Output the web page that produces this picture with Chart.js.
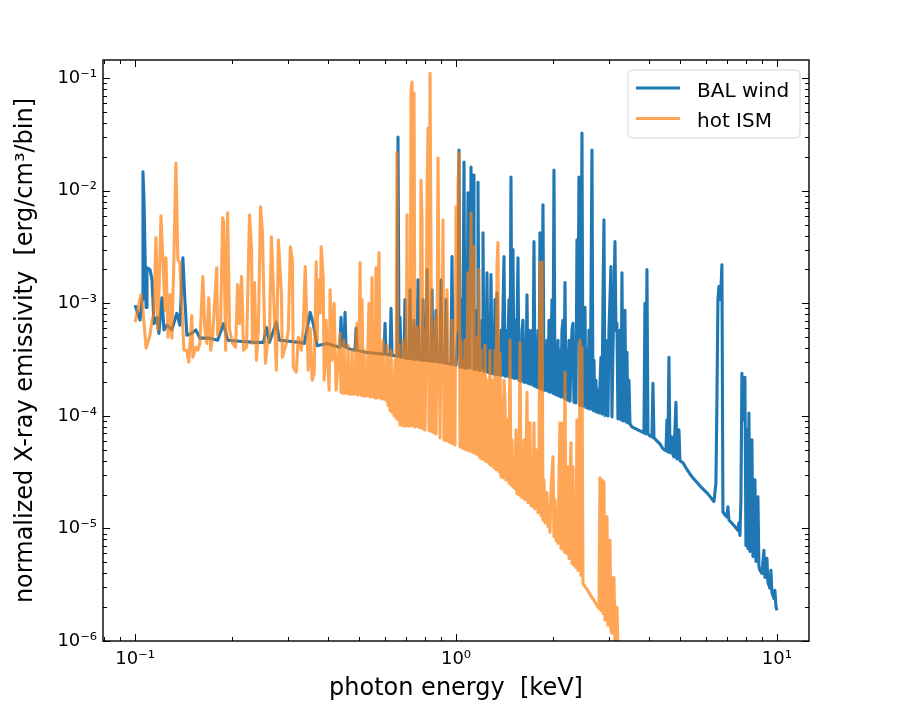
<!DOCTYPE html>
<html>
<head>
<meta charset="utf-8">
<script src="https://cdn.jsdelivr.net/npm/chart.js@4.4.0/dist/chart.umd.min.js"></script>
<style>
  html, body { margin: 0; padding: 0; background: #fff; }
  #wrap { width: 900px; height: 713px; }
</style>
</head>
<body>
<div id="wrap"><canvas id="spectrum" width="900" height="713"></canvas></div>
<script>
// BAL wind spectrum: [photon energy (keV), emissivity]
const windSpectrum = [
  [0.1000, 9.6e-4], [0.1036, 7.1e-4], [0.1051, 1.08e-3], [0.1058, 1.47e-2], [0.1066, 8.3e-3],
  [0.1082, 9.2e-4], [0.1089, 2.07e-3], [0.1113, 1.99e-3], [0.1129, 1.62e-3], [0.1145, 6.6e-4],
  [0.1170, 7.5e-4], [0.1186, 5.4e-4], [0.1212, 1.12e-3], [0.1230, 5.8e-4], [0.1257, 6.4e-4],
  [0.1302, 5.8e-4], [0.1349, 8.15e-4], [0.1379, 6.4e-4], [0.1409, 2.54e-3], [0.1429, 1.08e-3],
  [0.1450, 5.2e-4], [0.1502, 5.4e-4], [0.1546, 5.8e-4], [0.1591, 4.9e-4], [0.1708, 4.9e-4],
  [0.1808, 4.7e-4], [0.1887, 6.6e-4], [0.1942, 4.7e-4], [0.2116, 4.6e-4], [0.2355, 4.5e-4],
  [0.2512, 4.5e-4], [0.2566, 6.1e-4], [0.2622, 4.5e-4], [0.2756, 6.8e-4], [0.2816, 4.7e-4],
  [0.3248, 4.5e-4], [0.3366, 4.4e-4], [0.3513, 8.3e-4], [0.3589, 6.6e-4], [0.3693, 4.2e-4],
  [0.3967, 4.4e-4], [0.4170, 4.2e-4],
  [0.4351, 4.07e-4], [0.4382, 7.51e-4], [0.4414, 4.24e-4], [0.4478, 4.15e-4], [0.4510, 8.32e-4],
  [0.4542, 4.07e-4], [0.4675, 3.91e-4], [0.4846, 3.83e-4], [0.4881, 6.0e-4], [0.4916, 3.83e-4],
  [0.5206, 3.67e-4], [0.5593, 3.6e-4], [0.5967, 3.53e-4], [0.6009, 6.65e-4], [0.6052, 3.53e-4],
  [0.6229, 3.46e-4], [0.6274, 9.03e-4], [0.6319, 3.46e-4], [0.6549, 3.39e-4], [0.6596, 3.0e-2],
  [0.6644, 3.39e-4], [0.6692, 7.51e-4], [0.6740, 3.32e-4], [0.6887, 3.32e-4], [0.6936, 1.08e-3],
  [0.6986, 3.25e-4], [0.7138, 3.25e-4], [0.7190, 1.32e-3], [0.7242, 3.25e-4], [0.7346, 3.19e-4],
  [0.7399, 7.07e-4], [0.7452, 3.19e-4], [0.7560, 3.19e-4], [0.7614, 1.62e-3], [0.7669, 3.19e-4],
  [0.7836, 3.12e-4], [0.7892, 1.08e-3], [0.7949, 3.12e-4], [0.8064, 3.12e-4], [0.8122, 1.99e-3],
  [0.8180, 3.12e-4], [0.8359, 3.06e-4], [0.8419, 1.32e-3], [0.8479, 3.06e-4], [0.8602, 3.06e-4],
  [0.8664, 8.67e-4], [0.8726, 3.06e-4], [0.8916, 3.0e-4], [0.8980, 1.62e-3], [0.9045, 3.0e-4],
  [0.9241, 2.94e-4], [0.9308, 1.08e-3], [0.9375, 2.94e-4], [0.9648, 2.88e-4], [0.9717, 2.6e-3],
  [0.9787, 2.88e-4], [1.0000, 2.82e-4], [1.0144, 5.76e-4], [1.0217, 2.30e-2], [1.0291, 2.70e-4],
  [1.0365, 1.08e-3], [1.0440, 2.70e-4], [1.0515, 7.07e-4], [1.0591, 1.80e-2], [1.0667, 2.65e-4],
  [1.0744, 8.67e-4], [1.0821, 2.65e-4], [1.0899, 9.6e-3], [1.0977, 4.70e-4], [1.1056, 2.65e-4],
  [1.1136, 1.62e-2], [1.1216, 1.08e-3], [1.1297, 1.38e-2], [1.1378, 2.60e-4], [1.1460, 5.76e-4],
  [1.1543, 2.60e-4], [1.1626, 8.67e-4], [1.1709, 1.19e-2], [1.1794, 2.54e-4], [1.1879, 4.70e-4],
  [1.1964, 2.54e-4], [1.2051, 7.07e-4], [1.2137, 4.24e-3], [1.2225, 2.49e-4], [1.2312, 5.76e-4],
  [1.2401, 2.49e-4], [1.2490, 1.87e-3], [1.2580, 2.44e-4], [1.2671, 7.07e-4], [1.2762, 2.39e-4],
  [1.2854, 1.80e-3], [1.2946, 2.39e-4], [1.3040, 5.76e-4], [1.3134, 2.34e-4], [1.3228, 1.08e-3],
  [1.3323, 2.34e-4], [1.3419, 1.24e-3], [1.3516, 2.34e-4], [1.3613, 4.70e-4], [1.3711, 2.30e-4],
  [1.3810, 5.76e-4], [1.3909, 2.30e-4], [1.4009, 8.67e-4], [1.4110, 2.60e-3], [1.4212, 2.25e-4],
  [1.4314, 5.76e-4], [1.4417, 2.25e-4], [1.4521, 4.70e-4], [1.4625, 1.08e-3], [1.4730, 2.20e-4],
  [1.4836, 1.32e-2], [1.4943, 2.20e-4], [1.5051, 3.0e-3], [1.5159, 2.16e-4], [1.5269, 7.07e-4],
  [1.5379, 2.16e-4], [1.5489, 5.76e-4], [1.5601, 2.54e-3], [1.5713, 2.07e-4], [1.5826, 4.70e-4],
  [1.5940, 2.03e-4], [1.6055, 5.76e-4], [1.6170, 7.07e-4], [1.6287, 1.99e-4], [1.6404, 4.70e-4],
  [1.6522, 1.99e-4], [1.6641, 1.19e-3], [1.6761, 1.95e-4], [1.6881, 5.76e-4], [1.7003, 1.91e-4],
  [1.7125, 3.83e-4], [1.7249, 5.76e-4], [1.7373, 1.87e-4], [1.7498, 3.53e-3], [1.7624, 1.83e-4],
  [1.7751, 4.70e-4], [1.7879, 1.80e-4], [1.8007, 5.76e-4], [1.8137, 1.76e-4], [1.8268, 4.24e-3],
  [1.8399, 1.73e-4], [1.8532, 5.76e-4], [1.8665, 7.51e-3], [1.8799, 1.69e-4], [1.8935, 3.83e-4],
  [1.9071, 1.69e-4], [1.9208, 4.70e-4], [1.9347, 1.66e-4], [1.9486, 7.07e-4], [1.9626, 1.62e-4],
  [1.9767, 3.83e-4], [1.9910, 1.08e-3], [2.0053, 1.59e-4], [2.0197, 1.53e-2], [2.0343, 1.56e-4],
  [2.0489, 3.83e-4], [2.0637, 1.53e-4], [2.0785, 4.70e-4], [2.0935, 1.50e-4], [2.1086, 3.83e-4],
  [2.1238, 1.47e-4], [2.1391, 5.76e-4], [2.1545, 7.07e-4], [2.1700, 1.44e-4], [2.1856, 1.53e-3],
  [2.2013, 1.41e-4], [2.2171, 3.83e-4], [2.2331, 1.38e-4], [2.2492, 4.70e-4], [2.2654, 1.35e-4],
  [2.2817, 3.12e-4], [2.2981, 5.76e-4], [2.3147, 6.65e-4], [2.3313, 1.32e-4], [2.3481, 3.83e-4],
  [2.3650, 1.30e-4], [2.3820, 3.67e-3], [2.3992, 4.70e-4], [2.4164, 1.32e-2], [2.4338, 1.24e-4],
  [2.4513, 3.83e-4], [2.4690, 3.25e-2], [2.4868, 1.22e-4], [2.5047, 5.76e-4], [2.5227, 9.22e-4],
  [2.5409, 1.19e-4], [2.5592, 3.83e-4], [2.5776, 1.17e-4], [2.5961, 5.76e-4], [2.6149, 1.15e-4],
  [2.6337, 1.08e-3], [2.6527, 2.30e-2], [2.6718, 1.12e-4], [2.6910, 3.12e-4], [2.7103, 1.10e-4],
  [2.7298, 2.07e-4], [2.7495, 1.08e-4], [2.7693, 1.69e-4], [2.7892, 1.06e-4], [2.8295, 3.32e-4],
  [2.8499, 1.04e-4], [2.8704, 1.08e-3], [2.8911, 5.53e-3], [2.9119, 1.01e-4], [2.9329, 4.70e-4],
  [2.9540, 2.20e-4], [2.9753, 1.0e-4], [2.9967, 5.76e-4], [3.0182, 1.08e-3], [3.0400, 2.12e-3],
  [3.0619, 9.8e-5], [3.0839, 3.83e-4], [3.1061, 1.08e-3], [3.1285, 3.53e-3], [3.1510, 5.76e-4],
  [3.1737, 6.65e-4], [3.1965, 9.41e-5], [3.2195, 2.07e-4], [3.2426, 5.76e-4], [3.2660, 9.22e-5],
  [3.2895, 1.87e-3], [3.3132, 9.03e-5], [3.3370, 3.83e-4], [3.3611, 8.67e-4], [3.3853, 8.85e-5],
  [3.4096, 3.67e-4], [3.4342, 8.67e-5], [3.4589, 2.07e-4], [3.4839, 8.49e-5], [3.5342, 7.99e-5],
  [3.7429, 7.36e-5], [3.8519, 7.07e-5], [3.8797, 1.0e-3], [3.9076, 6.92e-5], [3.9357, 1.99e-3],
  [3.9641, 6.92e-5], [4.0212, 6.65e-5], [4.0794, 6.51e-5], [4.1087, 1.95e-4], [4.1383, 6.38e-5],
  [4.2283, 6.0e-5], [4.3203, 5.64e-5], [4.4143, 5.10e-5], [4.5103, 4.89e-5], [4.5428, 9.22e-5],
  [4.5755, 4.79e-5], [4.6084, 3.32e-4], [4.6417, 4.70e-5], [4.6751, 6.12e-5], [4.7087, 6.51e-5],
  [4.7426, 4.51e-5], [4.7768, 4.33e-5], [4.8457, 1.32e-4], [4.8806, 4.15e-5], [4.9511, 7.51e-5],
  [4.9868, 3.99e-5], [5.0952, 3.83e-5], [5.2061, 3.46e-5], [5.2815, 3.25e-5], [5.3577, 3.06e-5],
  [5.4352, 2.88e-5], [5.7560, 2.39e-5], [6.0961, 2.03e-5], [6.3642, 1.73e-5], [6.4561, 2.54e-5],
  [6.5025, 1.38e-4], [6.5493, 1.08e-3], [6.5965, 1.41e-3], [6.6440, 1.08e-3], [6.6918, 1.32e-3],
  [6.7400, 2.20e-3], [6.7885, 1.41e-5], [6.8867, 1.32e-5], [6.9862, 1.27e-5], [7.0365, 1.56e-5],
  [7.0872, 1.19e-5], [7.3988, 1.04e-5], [7.5597, 9.6e-6], [7.6142, 1.12e-5], [7.6690, 8.67e-6],
  [7.7242, 1.80e-5], [7.7798, 2.39e-4], [7.8358, 9.22e-5], [7.8922, 1.38e-4], [7.9489, 2.20e-4],
  [8.0061, 7.07e-6], [8.0638, 7.51e-5], [8.1218, 6.65e-6], [8.1803, 1.06e-4], [8.2393, 6.25e-6],
  [8.2986, 5.53e-5], [8.3583, 6.12e-5], [8.4185, 5.64e-6], [8.4791, 2.70e-5], [8.5401, 2.70e-5],
  [8.6016, 5.10e-6], [8.6635, 1.80e-5], [8.7259, 1.91e-5], [8.7887, 4.60e-6], [8.8519, 4.24e-6],
  [8.9799, 3.99e-6], [9.1095, 6.38e-6], [9.1753, 3.67e-6], [9.3079, 5.42e-6], [9.3749, 3.32e-6],
  [9.5103, 2.94e-6], [9.5788, 4.24e-6], [9.6477, 2.70e-6], [9.7868, 2.39e-6], [9.8575, 2.82e-6],
  [9.9285, 2.03e-6], [10.000, 1.87e-6]
];

// hot ISM spectrum: [photon energy (keV), emissivity]
const ismSpectrum = [
  [0.1000, 6.8e-4], [0.1043, 1.19e-3], [0.1058, 8.67e-4], [0.1082, 4.0e-4], [0.1113, 5.2e-4],
  [0.1129, 7.07e-4], [0.1145, 8.15e-4], [0.1161, 3.83e-3], [0.1178, 5.8e-4], [0.1204, 6.0e-3],
  [0.1221, 2.44e-3], [0.1239, 8.67e-4], [0.1248, 2.54e-3], [0.1266, 5.0e-4], [0.1284, 1.19e-3],
  [0.1302, 4.89e-4], [0.1321, 2.44e-3], [0.1340, 1.76e-2], [0.1359, 2.44e-3], [0.1379, 2.3e-3],
  [0.1399, 9.2e-4], [0.1419, 3.83e-4], [0.1450, 3.83e-4], [0.1470, 3.0e-4], [0.1502, 7.8e-4],
  [0.1513, 3.32e-4], [0.1546, 4.07e-4], [0.1568, 3.83e-4], [0.1591, 4.4e-4], [0.1626, 1.73e-3],
  [0.1648, 6.1e-4], [0.1672, 4.4e-4], [0.1696, 1.12e-3], [0.1720, 3.83e-4], [0.1745, 5.2e-4],
  [0.1796, 2.07e-3], [0.1808, 5.2e-4], [0.1847, 6.6e-4], [0.1874, 5.76e-3], [0.1887, 5.3e-3],
  [0.1915, 3.83e-4], [0.1942, 6.38e-3], [0.1970, 5.8e-4], [0.2013, 4.4e-4], [0.2057, 4.07e-4],
  [0.2086, 1.47e-3], [0.2116, 6.6e-4], [0.2146, 1.73e-3], [0.2177, 3.83e-4], [0.2225, 4.07e-4],
  [0.2273, 6.12e-3], [0.2306, 3.0e-3], [0.2322, 4.4e-4], [0.2355, 1.53e-3], [0.2389, 3.12e-4],
  [0.2423, 6.1e-4], [0.2459, 7.2e-3], [0.2494, 4.24e-3], [0.2512, 1.62e-3], [0.2548, 2.94e-4],
  [0.2585, 4.4e-4], [0.2622, 5.0e-4], [0.2660, 3.9e-3], [0.2698, 1.32e-3], [0.2756, 2.54e-4],
  [0.2796, 3.67e-3], [0.2857, 1.24e-3], [0.2877, 3.32e-4], [0.2960, 4.4e-4], [0.3003, 5.8e-4],
  [0.3046, 3.18e-3], [0.3090, 2.44e-3], [0.3112, 2.7e-4], [0.3179, 2.44e-4], [0.3225, 5.0e-4],
  [0.3295, 3.83e-4], [0.3342, 6.1e-4], [0.3390, 2.12e-3], [0.3439, 5.0e-4], [0.3464, 2.54e-4],
  [0.3513, 6.0e-4], [0.3564, 2.07e-4], [0.3615, 2.39e-4], [0.3667, 2.34e-3], [0.3693, 4.7e-4],
  [0.3720, 1.62e-3], [0.3774, 8.15e-4], [0.3801, 3.18e-3], [0.3856, 1.73e-3], [0.3883, 2.07e-4],
  [0.3939, 7.07e-4], [0.3967, 3.6e-4], [0.4024, 1.69e-4], [0.4053, 1.32e-3], [0.4111, 3.12e-4],
  [0.4170, 1.0e-3], [0.4230, 1.69e-4],
  [0.4351, 5.42e-4], [0.4382, 1.62e-4], [0.4414, 3.83e-4], [0.4446, 1.59e-4], [0.4478, 4.70e-4],
  [0.4510, 1.59e-4], [0.4542, 2.82e-4], [0.4575, 1.59e-4], [0.4608, 4.24e-4], [0.4641, 1.56e-4],
  [0.4675, 2.54e-4], [0.4709, 1.56e-4], [0.4743, 3.83e-4], [0.4777, 1.56e-4], [0.4811, 2.07e-4],
  [0.4846, 1.56e-4], [0.4881, 4.70e-4], [0.4916, 6.65e-4], [0.4951, 1.53e-4], [0.4987, 3.12e-4],
  [0.5023, 2.30e-3], [0.5059, 1.53e-4], [0.5096, 1.08e-3], [0.5132, 1.50e-4], [0.5169, 3.83e-4],
  [0.5206, 1.50e-4], [0.5243, 2.54e-4], [0.5281, 1.50e-4], [0.5319, 4.70e-4], [0.5358, 1.0e-3],
  [0.5396, 1.47e-4], [0.5435, 3.12e-4], [0.5474, 1.69e-3], [0.5513, 1.47e-4], [0.5553, 3.83e-4],
  [0.5593, 1.44e-4], [0.5633, 2.07e-3], [0.5674, 1.44e-4], [0.5715, 1.24e-3], [0.5756, 2.82e-3],
  [0.5798, 1.44e-4], [0.5840, 3.12e-4], [0.5882, 1.41e-4], [0.5924, 4.70e-4], [0.5967, 1.41e-4],
  [0.6009, 2.54e-4], [0.6052, 1.38e-4], [0.6096, 4.24e-4], [0.6140, 1.24e-4], [0.6184, 3.12e-4],
  [0.6229, 1.12e-4], [0.6274, 3.83e-4], [0.6319, 1.08e-4], [0.6364, 2.07e-4], [0.6410, 1.01e-4],
  [0.6456, 3.12e-4], [0.6502, 9.6e-5], [0.6549, 2.20e-2], [0.6596, 9.22e-5], [0.6644, 4.24e-4],
  [0.6692, 8.32e-5], [0.6740, 3.12e-4], [0.6789, 8.32e-5], [0.6838, 4.70e-4], [0.6887, 8.15e-5],
  [0.6936, 3.83e-4], [0.6986, 8.15e-5], [0.7036, 6.12e-3], [0.7087, 8.15e-5], [0.7138, 5.76e-4],
  [0.7190, 8.15e-5], [0.7242, 7.83e-2], [0.7294, 9.22e-2], [0.7346, 8.15e-5], [0.7399, 7.36e-2],
  [0.7452, 7.99e-5], [0.7506, 4.70e-4], [0.7560, 6.12e-4], [0.7614, 7.99e-5], [0.7669, 3.12e-4],
  [0.7724, 7.83e-5], [0.7780, 1.24e-2], [0.7836, 5.53e-3], [0.7892, 7.67e-5], [0.7949, 5.76e-4],
  [0.8006, 7.51e-5], [0.8064, 3.83e-4], [0.8122, 8.85e-3], [0.8180, 3.60e-2], [0.8239, 7.36e-5],
  [0.8299, 0.1107], [0.8359, 2.44e-3], [0.8419, 7.21e-5], [0.8479, 4.70e-4], [0.8540, 7.07e-5],
  [0.8602, 7.07e-4], [0.8664, 6.92e-5], [0.8726, 3.83e-4], [0.8789, 1.95e-2], [0.8852, 1.24e-3],
  [0.8916, 6.38e-5], [0.8980, 4.70e-4], [0.9045, 3.12e-4], [0.9110, 5.53e-3], [0.9176, 6.12e-5],
  [0.9241, 5.76e-4], [0.9308, 6.0e-5], [0.9375, 1.32e-3], [0.9442, 4.07e-4], [0.9510, 5.88e-5],
  [0.9579, 3.12e-4], [0.9648, 5.76e-5], [0.9717, 7.07e-4], [0.9787, 5.64e-5], [0.9858, 3.83e-4],
  [0.9928, 5.53e-5], [1.0000, 7.21e-3], [1.0072, 5.76e-4], [1.0144, 1.08e-2], [1.0217, 2.16e-2],
  [1.0291, 5.31e-5], [1.0365, 4.70e-4], [1.0440, 5.20e-5], [1.0515, 3.12e-4], [1.0591, 5.10e-5],
  [1.0667, 4.70e-4], [1.0744, 4.99e-5], [1.0821, 2.54e-4], [1.0899, 1.87e-3], [1.0977, 4.89e-5],
  [1.1056, 3.83e-4], [1.1136, 6.38e-3], [1.1216, 4.79e-5], [1.1297, 3.19e-3], [1.1378, 4.70e-5],
  [1.1460, 3.12e-4], [1.1543, 4.60e-5], [1.1626, 4.99e-4], [1.1709, 4.51e-5], [1.1794, 1.99e-3],
  [1.1879, 4.24e-5], [1.1964, 3.83e-4], [1.2051, 4.15e-5], [1.2137, 2.54e-4], [1.2225, 4.07e-5],
  [1.2312, 4.24e-4], [1.2401, 3.91e-5], [1.2490, 2.07e-4], [1.2580, 1.38e-4], [1.2671, 3.75e-5],
  [1.2762, 3.83e-4], [1.2854, 3.60e-5], [1.2946, 1.06e-4], [1.3040, 2.07e-4], [1.3134, 3.46e-5],
  [1.3228, 3.83e-4], [1.3323, 3.32e-5], [1.3419, 2.12e-3], [1.3516, 3.46e-3], [1.3613, 3.19e-5],
  [1.3711, 3.60e-4], [1.3810, 2.88e-5], [1.3909, 1.38e-4], [1.4009, 2.82e-5], [1.4110, 2.07e-4],
  [1.4212, 1.38e-4], [1.4314, 2.70e-5], [1.4417, 7.51e-5], [1.4521, 9.22e-5], [1.4625, 2.54e-5],
  [1.4730, 4.70e-4], [1.4836, 2.44e-5], [1.4943, 6.12e-5], [1.5051, 2.34e-5], [1.5159, 3.83e-5],
  [1.5269, 2.25e-5], [1.5379, 7.51e-5], [1.5489, 2.03e-5], [1.5601, 4.99e-5], [1.5713, 1.99e-5],
  [1.5826, 4.51e-4], [1.5940, 1.91e-5], [1.6055, 4.07e-5], [1.6170, 1.87e-5], [1.6287, 6.12e-5],
  [1.6404, 1.80e-5], [1.6522, 3.32e-5], [1.6641, 1.62e-4], [1.6761, 1.69e-5], [1.6881, 4.99e-5],
  [1.7003, 8.67e-5], [1.7125, 1.59e-5], [1.7249, 3.32e-5], [1.7373, 1.56e-5], [1.7498, 8.67e-5],
  [1.7624, 1.50e-5], [1.7751, 2.70e-5], [1.7879, 4.99e-5], [1.8007, 1.38e-5], [1.8137, 2.20e-5],
  [1.8268, 2.30e-3], [1.8399, 1.30e-5], [1.8532, 2.34e-3], [1.8665, 1.19e-5], [1.8799, 2.70e-5],
  [1.8935, 1.12e-5], [1.9071, 1.80e-5], [1.9208, 2.07e-5], [1.9347, 1.04e-5], [1.9486, 1.47e-5],
  [1.9626, 9.22e-6], [1.9767, 2.20e-5], [1.9910, 3.12e-5], [2.0053, 4.33e-5], [2.0197, 8.49e-6],
  [2.0343, 1.80e-5], [2.0489, 7.83e-6], [2.0637, 1.47e-5], [2.0785, 7.36e-6], [2.0935, 2.70e-5],
  [2.1086, 8.67e-5], [2.1238, 6.65e-6], [2.1391, 3.32e-5], [2.1545, 8.67e-5], [2.1700, 6.25e-6],
  [2.1856, 2.44e-4], [2.2013, 6.0e-6], [2.2171, 1.80e-5], [2.2331, 3.53e-5], [2.2492, 5.42e-6],
  [2.2654, 2.70e-5], [2.2817, 5.76e-5], [2.2981, 4.89e-6], [2.3147, 3.53e-5], [2.3313, 4.70e-6],
  [2.3481, 1.19e-5], [2.3650, 4.51e-6], [2.3820, 9.22e-5], [2.3992, 4.24e-6], [2.4164, 7.83e-6],
  [2.4338, 4.70e-4], [2.4513, 3.83e-6], [2.4690, 4.07e-4], [2.4868, 3.25e-6], [2.5227, 3.06e-6],
  [2.5592, 2.88e-6], [2.6149, 2.60e-6], [2.6910, 2.30e-6], [2.7495, 2.07e-6], [2.7892, 1.95e-6],
  [2.8093, 2.82e-5], [2.8295, 1.87e-6], [2.8499, 2.70e-5], [2.8704, 1.76e-6], [2.8911, 2.60e-5],
  [2.9119, 1.53e-6], [2.9329, 1.19e-5], [2.9540, 1.27e-5], [2.9753, 1.38e-6], [2.9967, 7.83e-6],
  [3.0182, 7.83e-6], [3.0400, 1.24e-6], [3.0619, 1.17e-6], [3.0839, 3.67e-6], [3.1061, 3.67e-6],
  [3.1285, 1.01e-6], [3.1510, 1.99e-6], [3.1737, 1.99e-6], [3.1965, 8.3e-7]
];

// axis ticks
const xTicks = [0.1, 1, 10];
const xTickLabels = ['10\u207B\u00B9', '10\u2070', '10\u00B9'];
const yTicks = [1e-6, 1e-5, 1e-4, 1e-3, 1e-2, 1e-1];
const yTickLabels = ['10\u207B\u2076', '10\u207B\u2075', '10\u207B\u2074', '10\u207B\u00B3', '10\u207B\u00B2', '10\u207B\u00B9'];

const FONT = '"DejaVu Sans", sans-serif';
Chart.defaults.font.family = FONT;
Chart.defaults.color = '#000';

function toPoints(pairs) {
    return pairs.map(p => ({ x: p[0], y: p[1] }));
}

function minorTicks(lo, hi) {
    const out = [];
    for (let k = -8; k <= 2; k++) {
        for (let m = 2; m <= 9; m++) {
            const v = m * Math.pow(10, k);
            if (v > lo && v < hi) out.push(v);
        }
    }
    return out;
}

// inward ticks on all four sides, frame and legend box
const frameAndLegend = {
    id: 'frameAndLegend',
    afterDatasetsDraw(chart) {
        const { ctx, chartArea: a, scales: { x, y } } = chart;
        ctx.save();
        ctx.strokeStyle = '#000';
        ctx.lineWidth = 1;
        const seg = (x1, y1, x2, y2) => {
            ctx.beginPath();
            ctx.moveTo(x1, y1);
            ctx.lineTo(x2, y2);
            ctx.stroke();
        };
        const xTick = (v, len) => {
            const p = Math.round(x.getPixelForValue(v)) + 0.5;
            seg(p, a.bottom, p, a.bottom - len);
            seg(p, a.top, p, a.top + len);
        };
        const yTick = (v, len) => {
            const p = Math.round(y.getPixelForValue(v)) + 0.5;
            seg(a.left, p, a.left + len, p);
            seg(a.right, p, a.right - len, p);
        };
        xTicks.forEach(v => xTick(v, 7));
        minorTicks(x.min, x.max).forEach(v => xTick(v, 4));
        yTicks.forEach(v => yTick(v, 7));
        minorTicks(y.min, y.max).forEach(v => yTick(v, 4));

        ctx.lineWidth = 1.4;
        ctx.strokeRect(a.left, a.top, a.right - a.left, a.bottom - a.top);

        // legend
        const bx = 628, by = 70, bw = 172, bh = 68, r = 4;
        ctx.beginPath();
        ctx.moveTo(bx + r, by);
        ctx.arcTo(bx + bw, by, bx + bw, by + bh, r);
        ctx.arcTo(bx + bw, by + bh, bx, by + bh, r);
        ctx.arcTo(bx, by + bh, bx, by, r);
        ctx.arcTo(bx, by, bx + bw, by, r);
        ctx.closePath();
        ctx.fillStyle = 'rgba(255,255,255,0.8)';
        ctx.fill();
        ctx.strokeStyle = '#d6d6d6';
        ctx.lineWidth = 1;
        ctx.stroke();

        ctx.font = '20px ' + FONT;
        ctx.textBaseline = 'alphabetic';
        ctx.textAlign = 'left';
        chart.data.datasets.forEach((ds, i) => {
            const ly = 88 + i * 30.5;
            ctx.strokeStyle = ds.borderColor;
            ctx.lineWidth = 3;
            seg(636, ly, 680, ly);
            ctx.fillStyle = '#000';
            ctx.fillText(ds.label, 697, ly + 8.5);
        });
        ctx.restore();
    }
};

const chart = new Chart(document.getElementById('spectrum'), {
    type: 'line',
    data: {
        datasets: [{
            label: 'BAL wind',
            data: toPoints(windSpectrum),
            borderColor: '#1f77b4',
            borderWidth: 3.1,
            borderJoinStyle: 'round',
            pointRadius: 0,
            tension: 0,
            order: 2
        }, {
            label: 'hot ISM',
            data: toPoints(ismSpectrum),
            borderColor: 'rgba(255,127,14,0.7)',
            borderWidth: 3.1,
            borderJoinStyle: 'round',
            pointRadius: 0,
            tension: 0,
            order: 1
        }]
    },
    options: {
        responsive: false,
        animation: false,
        events: [],
        devicePixelRatio: 1,
        layout: { padding: { top: 60, right: 91, left: 0, bottom: 0 } },
        plugins: {
            legend: { display: false },
            tooltip: { enabled: false }
        },
        scales: {
            x: {
                type: 'logarithmic',
                position: 'bottom',
                min: 0.07943,
                max: 12.589,
                grid: { display: false, drawTicks: false },
                border: { display: false },
                afterBuildTicks: s => { s.ticks = xTicks.map(v => ({ value: v })); },
                afterFit: s => { s.height = 72; },
                ticks: {
                    autoSkip: false,
                    maxRotation: 0,
                    padding: 8,
                    font: { size: 18 },
                    callback: v => xTickLabels[xTicks.indexOf(v)]
                },
                title: {
                    display: true,
                    text: 'photon energy  [keV]',
                    font: { size: 24 },
                    padding: { top: 0, bottom: 9.5 }
                }
            },
            y: {
                type: 'logarithmic',
                min: 1e-6,
                max: 0.145,
                grid: { display: false, drawTicks: false },
                border: { display: false },
                afterBuildTicks: s => { s.ticks = yTicks.map(v => ({ value: v })); },
                afterFit: s => { s.width = 103; },
                ticks: {
                    autoSkip: false,
                    padding: 6,
                    font: { size: 18 },
                    callback: v => yTickLabels[yTicks.indexOf(v)]
                },
                title: {
                    display: true,
                    text: 'normalized X-ray emissivity  [erg/cm\u00B3/bin]',
                    font: { size: 24 },
                    padding: { top: 11.5, bottom: 0 }
                }
            }
        }
    },
    plugins: [frameAndLegend]
});
</script>
</body>
</html>
